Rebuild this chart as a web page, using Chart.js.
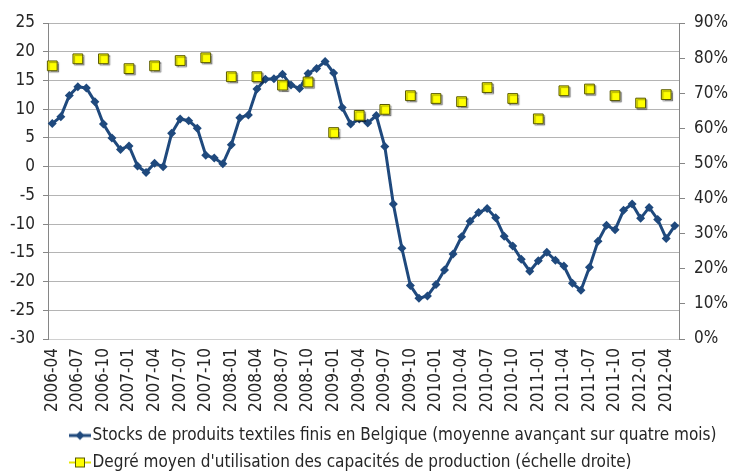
<!DOCTYPE html>
<html lang="fr">
<head>
<meta charset="UTF-8">
<title>Stocks textiles</title>
<script src="https://cdn.jsdelivr.net/npm/chart.js"></script>
<style>
    html, body { margin: 0; padding: 0; background: #fff; }
    #wrap { width: 731px; height: 472px; }
</style>
</head>
<body>
<div id="wrap"><canvas id="chart" width="731" height="472"></canvas></div>
<script>
// mois (un point par mois, étiquette tous les trois mois)
const months = [
    '2006-04', '2006-05', '2006-06', '2006-07', '2006-08', '2006-09', '2006-10', '2006-11', '2006-12',
    '2007-01', '2007-02', '2007-03', '2007-04', '2007-05', '2007-06', '2007-07', '2007-08', '2007-09',
    '2007-10', '2007-11', '2007-12', '2008-01', '2008-02', '2008-03', '2008-04', '2008-05', '2008-06',
    '2008-07', '2008-08', '2008-09', '2008-10', '2008-11', '2008-12', '2009-01', '2009-02', '2009-03',
    '2009-04', '2009-05', '2009-06', '2009-07', '2009-08', '2009-09', '2009-10', '2009-11', '2009-12',
    '2010-01', '2010-02', '2010-03', '2010-04', '2010-05', '2010-06', '2010-07', '2010-08', '2010-09',
    '2010-10', '2010-11', '2010-12', '2011-01', '2011-02', '2011-03', '2011-04', '2011-05', '2011-06',
    '2011-07', '2011-08', '2011-09', '2011-10', '2011-11', '2011-12', '2012-01', '2012-02', '2012-03',
    '2012-04', '2012-05'
];

// stocks de produits finis (solde, échelle gauche)
const stocks = [
    7.5, 8.7, 12.4, 13.9, 13.7, 11.3, 7.4, 5.0, 3.0,
    3.6, 0.1, -1.0, 0.6, 0.0, 5.8, 8.3, 8.0, 6.7,
    2.0, 1.5, 0.5, 3.8, 8.5, 9.0, 13.5, 15.2, 15.3,
    16.1, 14.2, 13.6, 16.2, 17.1, 18.3, 16.3, 10.3, 7.4,
    8.3, 7.6, 8.9, 3.5, -6.5, -14.2, -20.7, -22.9, -22.5,
    -20.5, -18.0, -15.2, -12.2, -9.5, -8.0, -7.3, -8.9, -12.1,
    -13.8, -16.1, -18.2, -16.4, -14.9, -16.3, -17.3, -20.3, -21.5,
    -17.5, -13.0, -10.2, -11.0, -7.6, -6.5, -9.0, -7.1, -9.2,
    -12.5, -10.3
];

// degré d'utilisation des capacités (%, trimestriel, échelle droite)
const quarters = [
    '2006-04', '2006-07', '2006-10', '2007-01', '2007-04', '2007-07', '2007-10',
    '2008-01', '2008-04', '2008-07', '2008-10', '2009-01', '2009-04', '2009-07',
    '2009-10', '2010-01', '2010-04', '2010-07', '2010-10', '2011-01', '2011-04',
    '2011-07', '2011-10', '2012-01', '2012-04'
];
const capacity = [
    77.8, 79.8, 79.8, 77.0, 77.8, 79.3, 80.1,
    74.7, 74.7, 72.3, 73.2, 58.8, 63.7, 65.4,
    69.3, 68.5, 67.6, 71.6, 68.5, 62.7, 70.7,
    71.2, 69.3, 67.2, 69.6
];

const leftTicks = [-30, 25, 5];   // min, max, pas
const rightTicks = [0, 90, 10];

const seriesNames = [
    'Stocks de produits textiles finis en Belgique (moyenne avançant sur quatre mois)',
    "Degré moyen d'utilisation des capacités de production (échelle droite)"
];

const FONT = '"Liberation Sans Narrow", "Arial Narrow", "DejaVu Sans Condensed", sans-serif';
const BLUE = '#1F497D';
const YELLOW = '#FFFF00';
const TEXT = '#262626';

// placer les points trimestriels sur l'axe mensuel
const capacityMonthly = months.map(m => {
    const k = quarters.indexOf(m);
    return k >= 0 ? capacity[k] : null;
});

// petites icônes de légende (trait + marqueur)
const makeIcon = (kind) => {
    const c = document.createElement('canvas');
    c.width = 22;
    c.height = 12;
    const g = c.getContext('2d');
    if (kind === 0) {
        g.strokeStyle = BLUE;
        g.lineWidth = 3;
        g.beginPath(); g.moveTo(0, 6); g.lineTo(22, 6); g.stroke();
        g.fillStyle = BLUE;
        g.beginPath(); g.moveTo(11, 1.5); g.lineTo(15.5, 6); g.lineTo(11, 10.5); g.lineTo(6.5, 6); g.closePath(); g.fill();
    } else {
        g.strokeStyle = '#E6E600';
        g.lineWidth = 2;
        g.beginPath(); g.moveTo(0, 6); g.lineTo(22, 6); g.stroke();
        g.fillStyle = YELLOW;
        g.fillRect(6.5, 1.5, 9, 9);
        g.strokeStyle = '#5a5a00';
        g.lineWidth = 1;
        g.strokeRect(6.5, 1.5, 9, 9);
    }
    return c;
};
const icons = [makeIcon(0), makeIcon(1)];

// ombre légère sous les carrés jaunes, légende calée à gauche
const tweaks = {
    id: 'tweaks',
    beforeDatasetDraw(chart, args) {
        if (args.index === 1) {
            const ctx = chart.ctx;
            ctx.save();
            ctx.shadowColor = 'rgba(0,0,0,0.35)';
            ctx.shadowOffsetX = 1.5;
            ctx.shadowOffsetY = 1.5;
            ctx.shadowBlur = 1;
        }
    },
    afterDatasetDraw(chart, args) {
        if (args.index === 1) chart.ctx.restore();
    },
    afterLayout(chart) {
        chart.legend.left = 66;
    }
};

const ctx = document.getElementById('chart').getContext('2d');
const chart = new Chart(ctx, {
    type: 'line',
    data: {
        labels: months,
        datasets: [{
            label: seriesNames[0],
            data: stocks,
            yAxisID: 'y',
            borderColor: BLUE,
            backgroundColor: BLUE,
            borderWidth: 3,
            pointStyle: 'rectRot',
            pointRadius: 4.5,
            pointBackgroundColor: BLUE,
            pointBorderColor: BLUE,
            pointBorderWidth: 0,
            tension: 0,
            order: 1
        }, {
            label: seriesNames[1],
            data: capacityMonthly,
            yAxisID: 'y1',
            showLine: false,
            pointStyle: 'rect',
            pointRadius: 6.9,
            pointBackgroundColor: YELLOW,
            pointBorderColor: '#5a5a00',
            pointBorderWidth: 1,
            backgroundColor: YELLOW,
            borderColor: '#5a5a00',
            order: 0
        }]
    },
    options: {
        responsive: false,
        animation: false,
        events: [],
        layout: { padding: { top: 23, right: 0, bottom: -9, left: 0 } },
        plugins: {
            title: { display: false },
            tooltip: { enabled: false },
            legend: {
                display: true,
                position: 'bottom',
                align: 'start',
                labels: {
                    color: TEXT,
                    font: { family: FONT, size: 17 },
                    padding: 10,
                    usePointStyle: true,
                    pointStyleWidth: 8,
                    generateLabels: (ch) => ch.data.datasets.map((ds, i) => ({
                        text: ds.label,
                        pointStyle: icons[i],
                        fillStyle: 'transparent',
                        strokeStyle: 'transparent',
                        lineWidth: 0,
                        fontColor: TEXT,
                        datasetIndex: i,
                        hidden: false
                    }))
                }
            }
        },
        scales: {
            x: {
                type: 'category',
                offset: true,
                grid: { display: false, drawTicks: false },
                border: { display: true, color: '#d0d0d0', width: 1 },
                ticks: {
                    autoSkip: false,
                    minRotation: 90,
                    maxRotation: 90,
                    padding: 9,
                    color: TEXT,
                    font: { family: FONT, size: 17 },
                    callback: function (value, index) {
                        return index % 3 === 0 ? this.getLabelForValue(value) : '';
                    }
                },
                afterFit: (scale) => { scale.height = 78; }
            },
            y: {
                position: 'left',
                min: leftTicks[0],
                max: leftTicks[1],
                grid: {
                    color: '#b4b4b4',
                    lineWidth: 1,
                    tickLength: 5,
                    tickColor: '#868686'
                },
                border: { display: true, color: '#868686', width: 1 },
                ticks: {
                    stepSize: leftTicks[2],
                    padding: 8,
                    color: TEXT,
                    font: { family: FONT, size: 17 }
                },
                afterFit: (scale) => { scale.width = 48; }
            },
            y1: {
                position: 'right',
                min: rightTicks[0],
                max: rightTicks[1],
                grid: {
                    drawOnChartArea: false,
                    tickLength: 6,
                    tickColor: '#868686'
                },
                border: { display: true, color: '#868686', width: 1 },
                ticks: {
                    stepSize: rightTicks[2],
                    padding: 9,
                    color: TEXT,
                    font: { family: FONT, size: 17 },
                    callback: (v) => v + '%'
                },
                afterFit: (scale) => { scale.width = 52; }
            }
        }
    },
    plugins: [tweaks]
});
</script>
</body>
</html>
